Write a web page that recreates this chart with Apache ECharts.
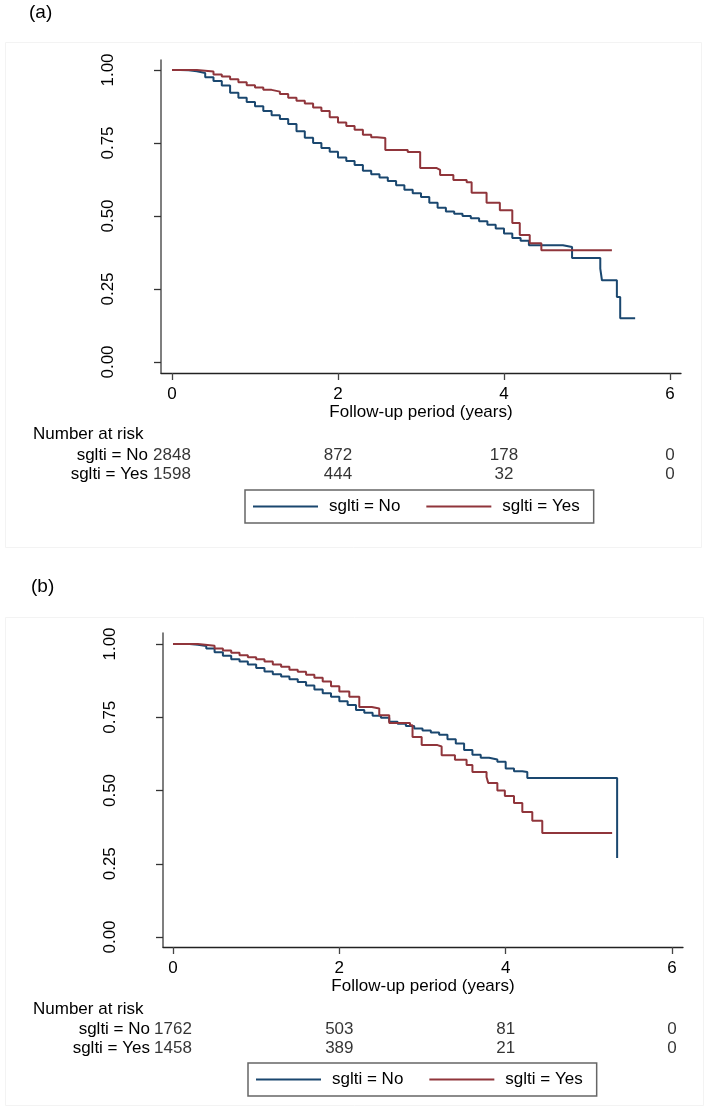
<!DOCTYPE html>
<html>
<head>
<meta charset="utf-8">
<script src="https://cdn.jsdelivr.net/npm/echarts@6/dist/echarts.min.js"></script>
<style>
html,body{margin:0;padding:0;background:#fff;}
#chart{width:707px;height:1106px;}
</style>
</head>
<body>
<div id="chart"></div>
<script>
// ---------- data ----------
const groupNames = ['sglti = No', 'sglti = Yes'];
const xTicks = [0, 2, 4, 6];
const yTicks = [0, 0.25, 0.5, 0.75, 1];
const riskTimes = [0, 2, 4, 6];

// Panel (a) Kaplan-Meier step points [years, survival]
const kmA_No = [[0,1],[0.1,0.999],[0.2,0.996],[0.3,0.99],[0.4,0.975],[0.5,0.962],[0.6,0.947],[0.7,0.922],[0.8,0.905],[0.9,0.89],[1.0,0.876],[1.1,0.86],[1.2,0.845],[1.3,0.832],[1.4,0.815],[1.5,0.79],[1.6,0.768],[1.7,0.75],[1.8,0.733],[1.9,0.72],[2.0,0.70],[2.1,0.688],[2.2,0.675],[2.3,0.655],[2.4,0.643],[2.5,0.632],[2.6,0.62],[2.7,0.605],[2.8,0.59],[2.9,0.578],[3.0,0.565],[3.1,0.545],[3.2,0.528],[3.3,0.515],[3.4,0.508],[3.5,0.5],[3.6,0.492],[3.7,0.482],[3.8,0.47],[3.9,0.457],[4.0,0.44],[4.1,0.425],[4.2,0.415],[4.3,0.40],[4.71,0.394],[4.82,0.356],[5.16,0.32],[5.18,0.28],[5.36,0.223],[5.40,0.15],[5.58,0.15]];
const kmA_Yes = [[0,1],[0.3,0.995],[0.5,0.985],[0.6,0.978],[0.7,0.968],[0.8,0.958],[0.9,0.948],[1.0,0.94],[1.1,0.932],[1.2,0.926],[1.3,0.918],[1.4,0.905],[1.5,0.895],[1.6,0.885],[1.7,0.872],[1.8,0.86],[1.9,0.838],[2.0,0.82],[2.1,0.808],[2.2,0.795],[2.3,0.778],[2.4,0.77],[2.47,0.767],[2.57,0.726],[2.84,0.719],[2.99,0.664],[3.19,0.658],[3.23,0.64],[3.39,0.623],[3.55,0.616],[3.61,0.58],[3.79,0.545],[3.95,0.52],[4.10,0.476],[4.19,0.435],[4.31,0.407],[4.45,0.383],[5.30,0.383]];
const riskA_No = [2848, 872, 178, 0];
const riskA_Yes = [1598, 444, 32, 0];

// Panel (b)
const kmB_No = [[0,1],[0.2,0.997],[0.3,0.993],[0.4,0.985],[0.5,0.972],[0.6,0.96],[0.7,0.948],[0.8,0.94],[0.9,0.93],[1.0,0.918],[1.1,0.906],[1.2,0.897],[1.3,0.889],[1.4,0.88],[1.5,0.87],[1.6,0.858],[1.7,0.845],[1.8,0.832],[1.9,0.82],[2.0,0.805],[2.1,0.792],[2.2,0.775],[2.3,0.765],[2.4,0.755],[2.5,0.748],[2.6,0.735],[2.7,0.728],[2.8,0.72],[2.9,0.712],[3.0,0.705],[3.1,0.698],[3.2,0.69],[3.3,0.675],[3.4,0.66],[3.5,0.638],[3.6,0.622],[3.7,0.612],[3.8,0.606],[3.9,0.598],[4.0,0.575],[4.1,0.566],[4.2,0.563],[4.26,0.543],[5.34,0.543],[5.34,0.27]];
const kmB_Yes = [[0,1],[0.3,0.994],[0.5,0.985],[0.6,0.978],[0.7,0.97],[0.8,0.962],[0.9,0.955],[1.0,0.948],[1.1,0.94],[1.2,0.93],[1.3,0.922],[1.4,0.912],[1.5,0.905],[1.6,0.895],[1.7,0.885],[1.8,0.872],[1.9,0.856],[2.0,0.838],[2.12,0.82],[2.24,0.785],[2.39,0.78],[2.48,0.757],[2.6,0.73],[2.85,0.723],[2.88,0.683],[2.99,0.655],[3.18,0.65],[3.23,0.62],[3.39,0.605],[3.53,0.587],[3.6,0.563],[3.77,0.546],[3.79,0.526],[3.9,0.5],[3.99,0.481],[4.1,0.457],[4.2,0.427],[4.32,0.397],[4.44,0.355],[5.28,0.355]];
const riskB_No = [1762, 503, 81, 0];
const riskB_Yes = [1458, 389, 21, 0];

// ---------- styling ----------
const BLUE = '#1a476f', RED = '#90353b';
const FONT = '"Liberation Sans", Arial, sans-serif';
const FS = 17;

function riskData(no, yes) {
  const d = [];
  riskTimes.forEach((t, i) => d.push([t, 0, no[i]]));
  riskTimes.forEach((t, i) => d.push([t, 1, yes[i]]));
  return d;
}

function plotX(idx, min, max) {
  return {
    gridIndex: idx, type: 'value', min: min, max: max,
    axisLine: {show: true, onZero: false, lineStyle: {color: '#222', width: 1.3}},
    axisTick: {show: true, length: 7, customValues: xTicks, lineStyle: {color: '#444', width: 1.3}},
    axisLabel: {customValues: xTicks, margin: 13, fontSize: FS, color: '#000', fontFamily: FONT},
    splitLine: {show: false},
    name: 'Follow-up period (years)', nameLocation: 'middle', nameGap: 30,
    nameTextStyle: {fontSize: FS, color: '#000', fontFamily: FONT}
  };
}
function plotY(idx, min, max) {
  return {
    gridIndex: idx, type: 'value', min: min, max: max,
    axisLine: {show: true, onZero: false, lineStyle: {color: '#555', width: 1.5}},
    axisTick: {show: true, length: 7, customValues: yTicks, lineStyle: {color: '#333', width: 1.3}},
    axisLabel: {customValues: yTicks, rotate: 90, margin: 44, fontSize: FS, color: '#000', fontFamily: FONT,
      formatter: v => v.toFixed(2)},
    splitLine: {show: false}
  };
}
function riskX(idx, min, max) {
  return {gridIndex: idx, type: 'value', min: min, max: max, show: false};
}
function riskY(idx) {
  return {
    gridIndex: idx, type: 'category', data: groupNames, inverse: true,
    axisLine: {show: false}, axisTick: {show: false}, splitLine: {show: false},
    axisLabel: {interval: 0, margin: 13, fontSize: FS, color: '#000', fontFamily: FONT}
  };
}
function kmSeries(name, data, xi, yi, color) {
  return {
    name: name, type: 'line', step: 'end', data: data, xAxisIndex: xi, yAxisIndex: yi,
    symbol: 'none', lineStyle: {color: color, width: 2}, itemStyle: {color: color},
    animation: false
  };
}
function riskSeries(data, xi, yi) {
  return {
    type: 'scatter', data: data, xAxisIndex: xi, yAxisIndex: yi, symbolSize: 0,
    label: {show: true, position: 'inside', formatter: p => String(p.value[2]),
      fontSize: FS, color: '#000', fontFamily: FONT},
    silent: true, animation: false
  };
}
function legendAt(left, top) {
  return {
    left: left, top: top, orient: 'horizontal',
    data: groupNames.map(n => ({name: n, icon: 'rect'})),
    borderColor: '#666', borderWidth: 1.5, borderRadius: 0, backgroundColor: '#fff',
    padding: [8, 14, 8, 8], itemWidth: 65, itemHeight: 2, itemGap: 26,
    textStyle: {fontSize: FS, color: '#000', fontFamily: FONT, padding: [0, 0, 0, 6]},
    selectedMode: false
  };
}

const option = {
  backgroundColor: '#fff',
  animation: false,
  grid: [
    {left: 161, top: 60, width: 520, height: 313},
    {left: 161, top: 445.5, width: 520, height: 38},
    {left: 163, top: 633, width: 520, height: 314},
    {left: 163, top: 1019.5, width: 520, height: 38}
  ],
  xAxis: [
    plotX(0, -0.1325, 6.1325),
    riskX(1, -0.1325, 6.1325),
    plotX(2, -0.1202, 6.132),
    riskX(3, -0.1202, 6.132)
  ],
  yAxis: [
    plotY(0, -11/292, 1 + 10/292),
    riskY(1),
    plotY(2, -10/293, 1 + 11/293),
    riskY(3)
  ],
  legend: [legendAt(245, 490), legendAt(248, 1063)],
  series: [
    kmSeries(groupNames[0], kmA_No, 0, 0, BLUE),
    kmSeries(groupNames[1], kmA_Yes, 0, 0, RED),
    riskSeries(riskData(riskA_No, riskA_Yes), 1, 1),
    kmSeries(groupNames[0], kmB_No, 2, 2, BLUE),
    kmSeries(groupNames[1], kmB_Yes, 2, 2, RED),
    riskSeries(riskData(riskB_No, riskB_Yes), 3, 3)
  ],
  graphic: [
    {type: 'rect', left: 3, top: 40, shape: {width: 696, height: 505}, z: -10,
      style: {fill: 'none', stroke: '#f3f3f3', lineWidth: 1}},
    {type: 'rect', left: 3, top: 615, shape: {width: 698, height: 488}, z: -10,
      style: {fill: 'none', stroke: '#f3f3f3', lineWidth: 1}},
    {type: 'text', left: 29, top: 3, style: {text: '(a)', fontSize: 19, fill: '#000', fontFamily: FONT}},
    {type: 'text', left: 31, top: 577, style: {text: '(b)', fontSize: 19, fill: '#000', fontFamily: FONT}},
    {type: 'text', left: 33, top: 426, style: {text: 'Number at risk', fontSize: FS, fill: '#000', fontFamily: FONT}},
    {type: 'text', left: 33, top: 1001, style: {text: 'Number at risk', fontSize: FS, fill: '#000', fontFamily: FONT}}
  ]
};

const chart = echarts.init(document.getElementById('chart'), null, {renderer: 'canvas'});
chart.setOption(option);
</script>
</body>
</html>
